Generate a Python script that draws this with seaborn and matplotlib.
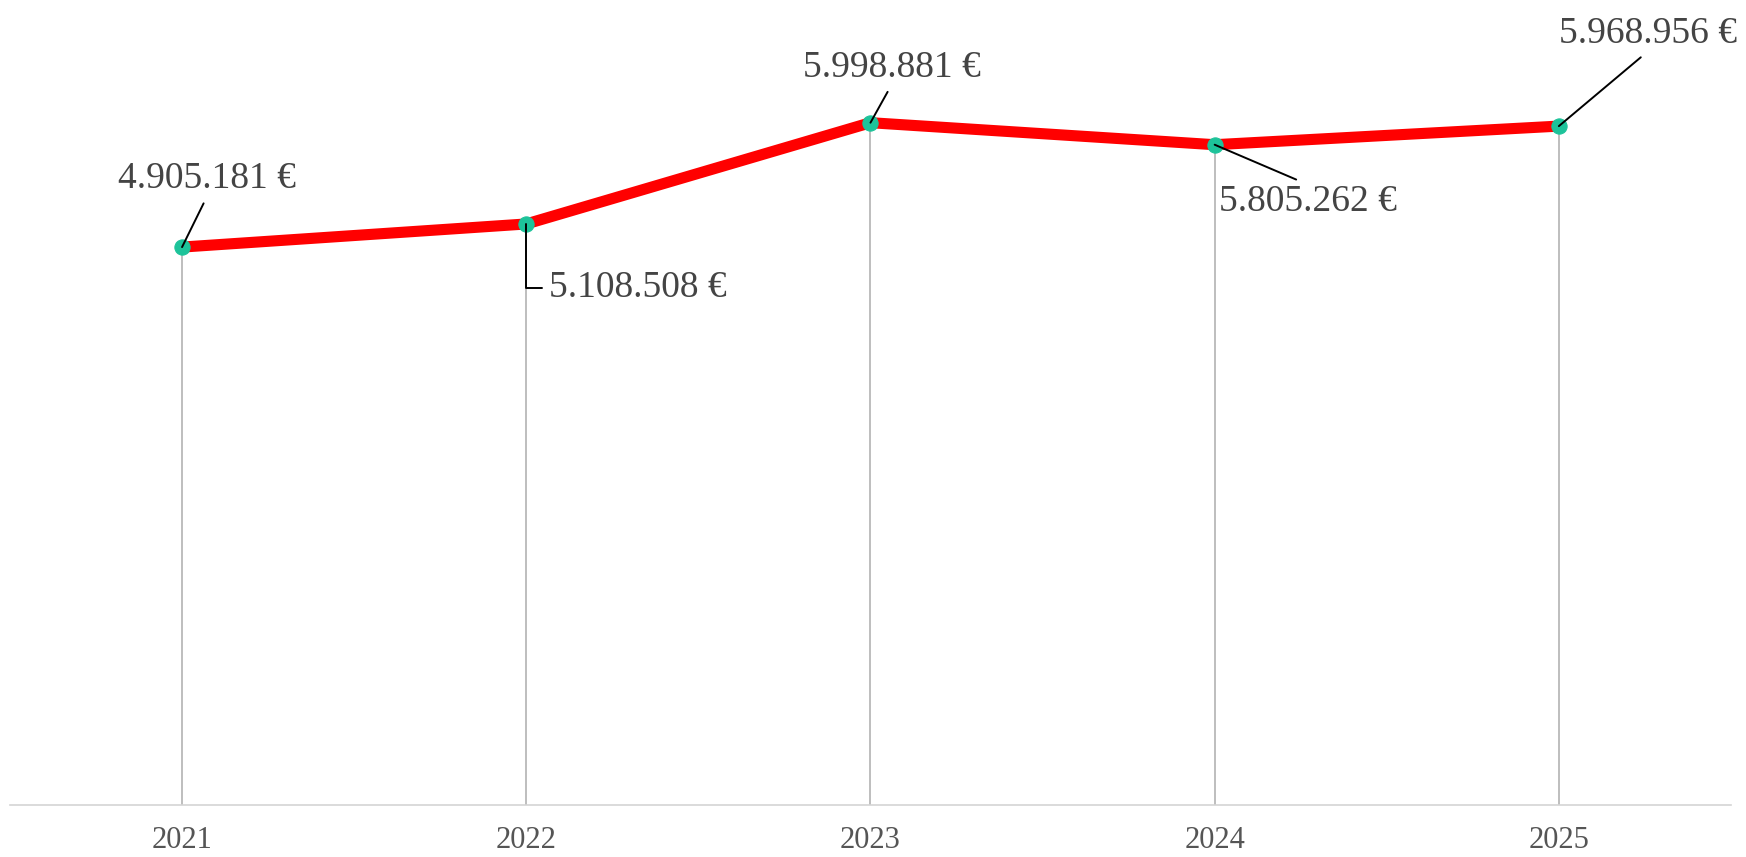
from matplotlib import pyplot as plt
import pandas as pd
import seaborn as sns

# data
years = [2021, 2022, 2023, 2024, 2025]
values = [4905181, 5108508, 5998881, 5805262, 5968956]
labels = ['4.905.181 €', '5.108.508 €', '5.998.881 €', '5.805.262 €', '5.968.956 €']
# label offsets (pixels) and where the connector meets the text
offsets = [(25, 68), (112, -64), (21, 55), (93, -57), (89, 92)]
relpos = [(0.5, 0), (0, 0.5), (0.5, 0), (0.5, 1), (0.5, 0)]


def main():
    sns.set_style('white')
    plt.rcParams['font.family'] = ['Liberation Serif', 'DejaVu Serif']

    df = pd.DataFrame({'year': years, 'value': values})

    fig = plt.figure(figsize=(17.46, 8.57), dpi=100)
    ax = fig.add_axes([0.0057, 0.0607, 0.9857, 0.929])

    # drop lines from each point to the base
    ax.vlines(df['year'], 0, df['value'], color='#b3b3b3', lw=1.2, zorder=1)

    sns.lineplot(data=df, x='year', y='value', ax=ax, color='#ff0000', lw=8,
                 marker='o', markersize=11, markerfacecolor='#1dc39a',
                 markeredgecolor='#1dc39a', zorder=2)

    for x, y, lab, off, rp in zip(years, values, labels, offsets, relpos):
        cs = 'angle,angleA=0,angleB=90,rad=0' if rp == (0, 0.5) else 'arc3'
        ax.annotate(lab, xy=(x, y), xytext=off, textcoords='offset pixels',
                    ha='center', va='center', fontsize=27, color='#444444',
                    arrowprops=dict(arrowstyle='-', color='black', lw=1.4,
                                    relpos=rp, connectionstyle=cs,
                                    shrinkA=3, shrinkB=0),
                    zorder=4)

    ax.set_xlim(2020.5, 2025.5)
    ax.set_ylim(0, 7000000)
    ax.set_xticks(years)
    ax.set_xticklabels([str(y) for y in years])
    ax.set_yticks([])
    ax.set_xlabel('')
    ax.set_ylabel('')
    ax.tick_params(axis='x', length=0, pad=15, labelsize=22, labelcolor='#555555')
    for s in ['top', 'right', 'left']:
        ax.spines[s].set_visible(False)
    ax.spines['bottom'].set_color('#d4d4d4')
    ax.spines['bottom'].set_linewidth(1.2)

    plt.savefig('out.png')


if __name__ == '__main__':
    main()
